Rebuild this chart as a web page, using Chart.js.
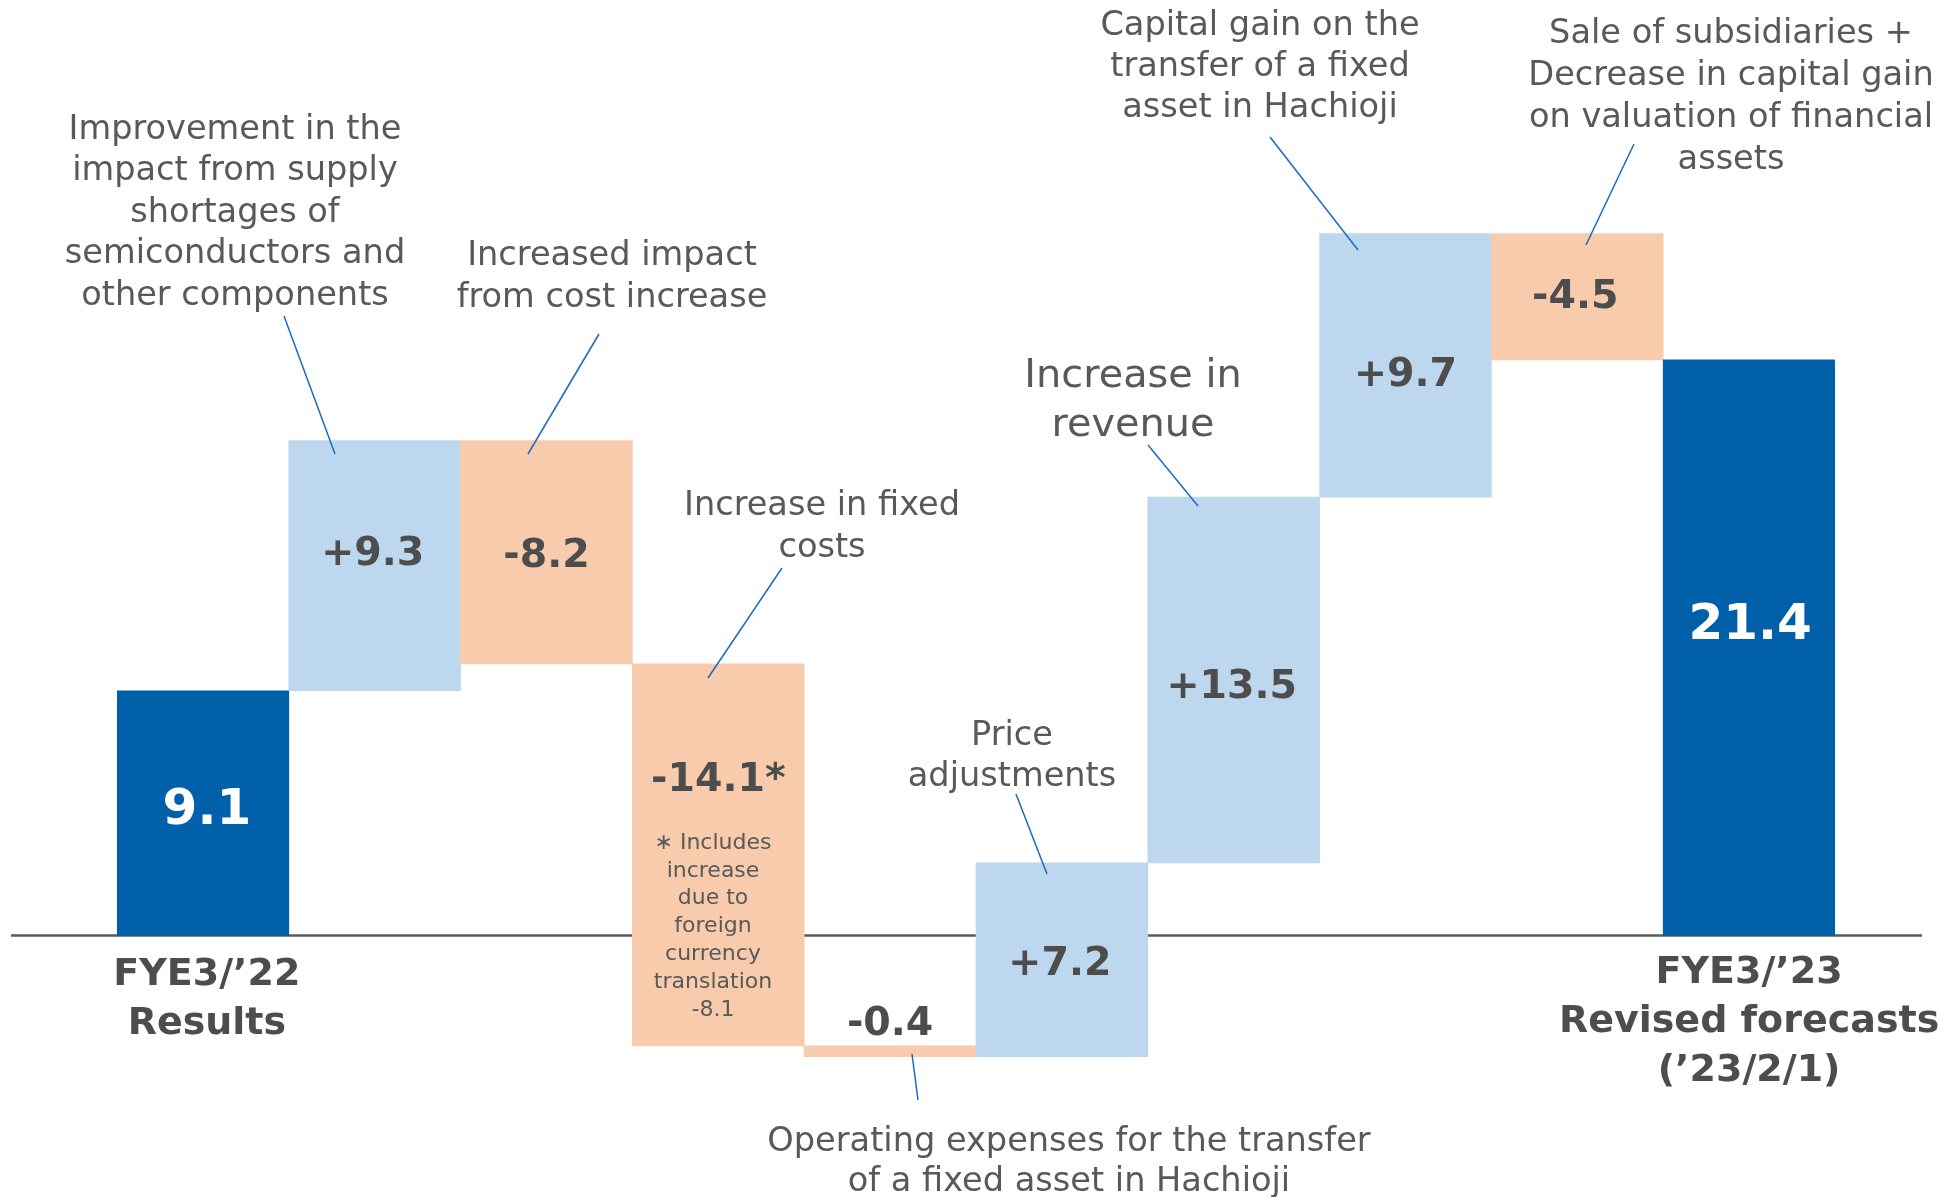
<!DOCTYPE html>
<html>
<head>
<meta charset="utf-8">
<script src="https://cdn.jsdelivr.net/npm/chart.js@4"></script>
<style>
  html, body { margin: 0; padding: 0; background: #fff; }
  #wrap { width: 1954px; height: 1197px; position: relative; }
</style>
</head>
<body>
<div id="wrap"><canvas id="bridge"></canvas></div>
<script>
// bar data (operating income bridge, billions of yen)
const categories = ['FYE3/’22', 'Supply', 'Cost', 'Fixed costs', 'Hachioji expenses',
                    'Price', 'Revenue', 'Hachioji gain', 'Subsidiaries', 'FYE3/’23'];
const barLows  = [0,   9.1,  10.1, -4.1, -4.5, -4.5, 2.7,  16.3, 21.4, 0];
const barHighs = [9.1, 18.4, 18.4, 10.1, -4.1, 2.7,  16.3, 26.1, 26.1, 21.4];
const barKinds = ['total', 'up', 'down', 'down', 'down', 'up', 'up', 'up', 'down', 'total'];
const valueLabels = ['9.1', '+9.3', '-8.2', '-14.1*', '-0.4', '+7.2', '+13.5', '+9.7', '-4.5', '21.4'];

const kindColors = { total: '#0060A9', up: '#BDD7EE', down: '#F8CBAD' };

// where each value label sits (pixel y, x nudge) and its style
const labelStyle = [
  { y: 811, dx: 4, size: 50, color: '#ffffff' },
  { y: 555, dx: -2, size: 39.5, color: '#4D4D4D' },
  { y: 557, dx: 0, size: 39.5, color: '#4D4D4D' },
  { y: 781, dx: 0, size: 39.5, color: '#4D4D4D' },
  { y: 1025, dx: 0, size: 39.5, color: '#4D4D4D' },
  { y: 965, dx: -2, size: 39.5, color: '#4D4D4D' },
  { y: 688, dx: -2, size: 39.5, color: '#4D4D4D' },
  { y: 376, dx: 0, size: 39.5, color: '#4D4D4D' },
  { y: 298, dx: -2, size: 39.5, color: '#4D4D4D' },
  { y: 626, dx: 1, size: 50, color: '#ffffff' }
];

// category captions below the axis
const axisCaptions = [
  { index: 0, lines: ['FYE3/’22', 'Results'], y: 975, dx: 4 },
  { index: 9, lines: ['FYE3/’23', 'Revised forecasts', '(’23/2/1)'], y: 973, dx: 0 }
];

// callout texts with leader lines
const callouts = [
  { lines: ['Improvement in the', 'impact from supply', 'shortages of', 'semiconductors and', 'other components'],
    x: 235, y: 130, lh: 41.5, size: 33.6, leader: [284, 316, 335, 454] },
  { lines: ['Increased impact', 'from cost increase'],
    x: 612, y: 256, lh: 42, size: 33.6, leader: [599, 334, 528, 454] },
  { lines: ['Increase in fixed', 'costs'],
    x: 822, y: 506, lh: 42, size: 33.6, leader: [782, 568, 708, 678] },
  { lines: ['∗ Includes', 'increase', 'due to', 'foreign', 'currency', 'translation', '-8.1'],
    x: 713, y: 843, lh: 27.8, size: 22 },
  { lines: ['Operating expenses for the transfer', 'of a fixed asset in Hachioji'],
    x: 1069, y: 1142, lh: 40, size: 33.6, leader: [912, 1054, 918, 1100] },
  { lines: ['Price', 'adjustments'],
    x: 1012, y: 736, lh: 41, size: 33.6, leader: [1016, 794, 1047, 874] },
  { lines: ['Increase in', 'revenue'],
    x: 1133, y: 377, lh: 49, size: 39.8, leader: [1148, 445, 1198, 506] },
  { lines: ['Capital gain on the', 'transfer of a fixed', 'asset in Hachioji'],
    x: 1260, y: 26, lh: 41, size: 33.6, leader: [1270, 137, 1358, 250] },
  { lines: ['Sale of subsidiaries +', 'Decrease in capital gain', 'on valuation of financial', 'assets'],
    x: 1731, y: 34, lh: 42, size: 33.6, leader: [1634, 144, 1586, 245] }
];

const FONT = "'DejaVu Sans', Verdana, sans-serif";

// zero line drawn under the bars
const baselinePlugin = {
  id: 'baseline',
  beforeDatasetsDraw(chart) {
    const ctx = chart.ctx;
    const y0 = chart.scales.y.getPixelForValue(0);
    ctx.save();
    ctx.strokeStyle = '#595959';
    ctx.lineWidth = 2.5;
    ctx.beginPath();
    ctx.moveTo(11, y0);
    ctx.lineTo(1922, y0);
    ctx.stroke();
    ctx.restore();
  }
};

const textPlugin = {
  id: 'texts',
  afterDatasetsDraw(chart) {
    const ctx = chart.ctx;
    const meta = chart.getDatasetMeta(0);
    ctx.save();
    ctx.textAlign = 'center';
    ctx.textBaseline = 'middle';

    // value labels
    meta.data.forEach((bar, i) => {
      const st = labelStyle[i];
      ctx.fillStyle = st.color;
      ctx.font = 'bold ' + st.size + 'px ' + FONT;
      ctx.fillText(valueLabels[i], bar.x + st.dx, st.y);
    });

    // captions under the axis
    ctx.fillStyle = '#4D4D4D';
    ctx.font = 'bold 38px ' + FONT;
    axisCaptions.forEach(c => {
      const x = meta.data[c.index].x + c.dx;
      c.lines.forEach((t, k) => ctx.fillText(t, x, c.y + k * 49));
    });

    // callouts
    callouts.forEach(c => {
      ctx.fillStyle = '#595959';
      ctx.font = c.size + 'px ' + FONT;
      c.lines.forEach((t, k) => ctx.fillText(t, c.x, c.y + k * c.lh));
      if (c.leader) {
        ctx.strokeStyle = '#1A6BBF';
        ctx.lineWidth = 1.5;
        ctx.beginPath();
        ctx.moveTo(c.leader[0], c.leader[1]);
        ctx.lineTo(c.leader[2], c.leader[3]);
        ctx.stroke();
      }
    });
    ctx.restore();
  }
};

new Chart(document.getElementById('bridge'), {
  type: 'bar',
  data: {
    labels: categories,
    datasets: [{
      data: barLows.map((lo, i) => [lo, barHighs[i]]),
      backgroundColor: barKinds.map(k => kindColors[k]),
      borderWidth: 0,
      barPercentage: 1,
      categoryPercentage: 1
    }]
  },
  options: {
    responsive: true,
    maintainAspectRatio: false,
    animation: false,
    layout: { padding: { left: 117, right: 119, top: 0, bottom: 0 } },
    scales: {
      x: { display: false },
      y: { display: false, min: -9.72, max: 34.78 }
    },
    plugins: {
      legend: { display: false },
      tooltip: { enabled: false }
    }
  },
  plugins: [baselinePlugin, textPlugin]
});
</script>
</body>
</html>
